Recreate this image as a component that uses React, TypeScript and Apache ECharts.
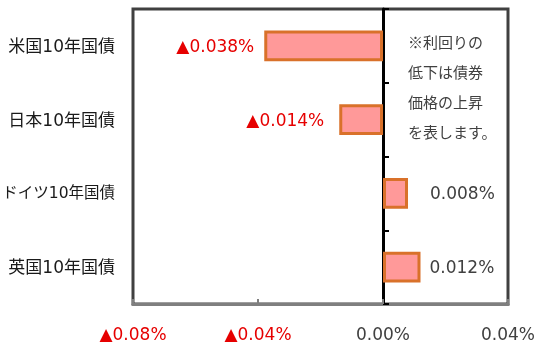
import React, { useEffect, useRef } from "react";
import * as echarts from "echarts";

const categories = ["米国10年国債", "日本10年国債", "ドイツ10年国債", "英国10年国債"];
const values = [-0.038, -0.014, 0.008, 0.012];
const valueLabels = ["▲0.038%", "▲0.014%", "0.008%", "0.012%"];
const labelGaps = [10, 15, 22, 9];
const note = "※利回りの\n低下は債券\n価格の上昇\nを表します。";

const FONT = "'DejaVu Sans', 'Noto Sans CJK JP', sans-serif";
const RED = "#E60000";
const TEXT = "#404040";

export default function App() {
  const ref = useRef<HTMLDivElement>(null);
  useEffect(() => {
    if (!ref.current) return;
    const chart = echarts.init(ref.current, null, { renderer: "svg" });
    chart.setOption({
      animation: false,
      textStyle: { fontFamily: FONT },
      grid: {
        left: 133,
        right: 32,
        top: 9,
        bottom: 43,
        containLabel: false,
        outerBoundsMode: "none",
        show: true,
        borderColor: "#404040",
        borderWidth: 3,
        backgroundColor: "transparent",
      },
      xAxis: {
        type: "value",
        min: -0.08,
        max: 0.04,
        interval: 0.04,
        splitLine: { show: false },
        axisLine: { show: true, lineStyle: { color: "#7F7F7F", width: 3 } },
        axisTick: { show: true, inside: true, length: 5, lineStyle: { color: "#7F7F7F", width: 2 } },
        axisLabel: {
          margin: 21,
          fontSize: 17,
          fontFamily: FONT,
          color: TEXT,
          hideOverlap: false,
          formatter: (v: number) => {
            const s = Math.abs(v).toFixed(2) + "%";
            return v < -1e-9 ? "{neg|▲" + s + "}" : "{pos|" + s + "}";
          },
          rich: {
            neg: { color: RED, fontSize: 17, fontFamily: FONT },
            pos: { color: TEXT, fontSize: 17, fontFamily: FONT },
          },
        },
      },
      yAxis: [
        {
          type: "category",
          data: categories,
          inverse: true,
          position: "left",
          axisLine: { show: false, onZero: false },
          axisTick: { show: false },
          axisLabel: {
            fontSize: 17,
            color: "#1a1a1a",
            margin: 18,
            fontFamily: FONT,
            formatter: (v: string) => (v.length > 7 ? "{s|" + v + "}" : "{n|" + v + "}"),
            rich: {
              n: { fontSize: 17, color: "#1a1a1a", fontFamily: FONT },
              s: { fontSize: 15.5, color: "#1a1a1a", fontFamily: FONT },
            },
          },
        },
        {
          type: "category",
          data: categories,
          inverse: true,
          position: "left",
          axisLine: { show: true, onZero: true, lineStyle: { color: "#000000", width: 3 } },
          axisTick: { show: true, inside: true, length: 6, lineStyle: { color: "#000000", width: 2 } },
          axisLabel: { show: false },
        },
      ],
      series: [
        {
          type: "bar",
          yAxisIndex: 0,
          barWidth: "42%",
          z: 1,
          itemStyle: { color: "#FF9999", borderColor: "#D9712A", borderWidth: 3 },
          data: values.map((v, i) => ({
            value: v,
            label: {
              show: true,
              position: v < 0 ? "left" : "right",
              distance: labelGaps[i],
              formatter: valueLabels[i],
              color: v < 0 ? RED : TEXT,
              fontSize: 17,
              fontFamily: FONT,
            },
          })),
        },
      ],
      graphic: [
        {
          type: "text",
          left: 408,
          top: 26,
          style: {
            text: note,
            fill: TEXT,
            fontSize: 15,
            lineHeight: 30,
            fontFamily: "'Noto Sans CJK JP', sans-serif",
          },
        },
      ],
    });
    return () => chart.dispose();
  }, []);
  return <div ref={ref} style={{ width: 540, height: 347, position: "fixed", left: 0, top: 0 }} />;
}
